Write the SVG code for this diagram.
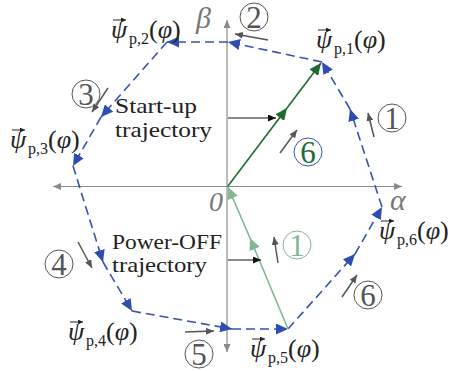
<svg xmlns="http://www.w3.org/2000/svg" width="451" height="371" viewBox="0 0 451 371">
<defs>
<style>
.ax{stroke:#8a8a8a;stroke-width:1.2;fill:none}
.traj{stroke:#3552b0;stroke-width:1.6;fill:none;stroke-dasharray:9 5}
.up{stroke:#1e6b30;stroke-width:1.6;fill:none}
.off{stroke:#7fb893;stroke-width:1.6;fill:none}
.ga{stroke:#555;stroke-width:1.5;fill:none}
.ba{stroke:#111;stroke-width:1;fill:none}
.lbl{font-family:"Liberation Serif","DejaVu Serif",serif;font-size:26px;fill:#222}
.it{font-style:italic}
.sub{font-size:16px}
.vec{stroke:#222;stroke-width:1;fill:none}
.txt{font-family:"Liberation Serif","DejaVu Serif",serif;font-size:22px;fill:#222}
.gr{font-family:"Liberation Serif","DejaVu Serif",serif;font-style:italic;fill:#777}
.cn{font-family:"Liberation Serif","DejaVu Serif",serif;font-size:31px;text-anchor:middle}
.cc{fill:none;stroke-width:1}
</style>
<marker id="mb" markerUnits="userSpaceOnUse" markerWidth="12" markerHeight="11" refX="12" refY="5.5" orient="auto"><path d="M0,0 L12,5.5 L0,11 z" fill="#2f4db0"/></marker>
<marker id="mg" markerUnits="userSpaceOnUse" markerWidth="12" markerHeight="11" refX="12" refY="5.5" orient="auto"><path d="M0,0 L12,5.5 L0,11 z" fill="#1e6b30"/></marker>
<marker id="ml" markerUnits="userSpaceOnUse" markerWidth="12" markerHeight="11" refX="12" refY="5.5" orient="auto"><path d="M0,0 L12,5.5 L0,11 z" fill="#7fb893"/></marker>
<marker id="ms" markerUnits="userSpaceOnUse" markerWidth="8" markerHeight="7" refX="8" refY="3.5" orient="auto"><path d="M0,0 L8,3.5 L0,7 z" fill="#555"/></marker>
<marker id="ma" markerUnits="userSpaceOnUse" markerWidth="8" markerHeight="7" refX="8" refY="3.5" orient="auto-start-reverse"><path d="M0,0 L8,3.5 L0,7 z" fill="#8a8a8a"/></marker>
<marker id="mk" markerUnits="userSpaceOnUse" markerWidth="8" markerHeight="7" refX="8" refY="3.5" orient="auto"><path d="M0,0 L8,3.5 L0,7 z" fill="#111"/></marker>
<marker id="mv" markerUnits="userSpaceOnUse" markerWidth="5" markerHeight="5" refX="5" refY="2.5" orient="auto"><path d="M0,0 L5,2.5 L0,5 z" fill="#222"/></marker>
</defs>

<g id="axes">
<line class="ax" x1="227" y1="352" x2="227" y2="20" marker-start="url(#ma)" marker-end="url(#ma)"/>
<line class="ax" x1="53" y1="186.5" x2="402" y2="186.5" marker-start="url(#ma)" marker-end="url(#ma)"/>
<text class="gr" x="196" y="28" font-size="30">β</text>
<text class="gr" x="390" y="210" font-size="30">α</text>
<text class="gr" x="209" y="211" font-size="28">0</text>
</g>

<g id="connectors">
<line class="traj" x1="322" y1="62" x2="228" y2="42" marker-end="url(#mb)"/>
<line class="traj" x1="228" y1="42" x2="167" y2="42" marker-end="url(#mb)"/>
<line class="traj" x1="167" y1="42" x2="101" y2="117" marker-end="url(#mb)"/>
<line class="traj" x1="101" y1="117" x2="73" y2="166" marker-end="url(#mb)"/>
<line class="traj" x1="73" y1="166" x2="103" y2="262" marker-end="url(#mb)"/>
<line class="traj" x1="103" y1="262" x2="132" y2="311" marker-end="url(#mb)"/>
<line class="traj" x1="132" y1="311" x2="232" y2="329" marker-end="url(#mb)"/>
<line class="traj" x1="232" y1="329" x2="288" y2="329" marker-end="url(#mb)"/>
<line class="traj" x1="288" y1="329" x2="355" y2="254" marker-end="url(#mb)"/>
<line class="traj" x1="355" y1="254" x2="382" y2="207" marker-end="url(#mb)"/>
<line class="traj" x1="382" y1="207" x2="350" y2="109" marker-end="url(#mb)"/>
<line class="traj" x1="350" y1="109" x2="322" y2="62" marker-end="url(#mb)"/>

<line class="up" x1="228" y1="186" x2="287" y2="108" marker-end="url(#mg)"/>
<line class="up" x1="287" y1="108" x2="321" y2="63" marker-end="url(#mg)"/>

<line class="off" x1="288" y1="329" x2="250" y2="238" marker-end="url(#ml)"/>
<line class="off" x1="250" y1="238" x2="228" y2="187" marker-end="url(#ml)"/>

<line class="ba" x1="228" y1="118" x2="276" y2="118" marker-end="url(#mk)"/>
<line class="ba" x1="228" y1="260" x2="261" y2="260" marker-end="url(#mk)"/>

<line class="ga" x1="268" y1="40" x2="235" y2="34" marker-end="url(#ms)"/>
<line class="ga" x1="374" y1="137" x2="368" y2="113" marker-end="url(#ms)"/>
<line class="ga" x1="280" y1="153" x2="297" y2="130" marker-end="url(#ms)"/>
<line class="ga" x1="108" y1="88" x2="92" y2="112" marker-end="url(#ms)"/>
<line class="ga" x1="78" y1="242" x2="92" y2="268" marker-end="url(#ms)"/>
<line class="ga" x1="185" y1="332" x2="214" y2="331" marker-end="url(#ms)"/>
<line class="ga" x1="342" y1="297" x2="357" y2="275" marker-end="url(#ms)"/>
<line class="ga" x1="278" y1="263" x2="274" y2="237" marker-end="url(#ms)"/>
</g>

<g id="label-p1">
<path class="vec" d="M318,30 h13" marker-end="url(#mv)"/>
<text class="lbl" x="316" y="48"><tspan class="it">ψ</tspan><tspan class="sub" x="334" dy="6">p,1</tspan><tspan x="354" dy="-6">(</tspan><tspan class="it">φ</tspan>)</text>
</g>
<g id="label-p2">
<path class="vec" d="M113,20 h13" marker-end="url(#mv)"/>
<text class="lbl" x="111" y="38"><tspan class="it">ψ</tspan><tspan class="sub" x="129" dy="6">p,2</tspan><tspan x="149" dy="-6">(</tspan><tspan class="it">φ</tspan>)</text>
</g>
<g id="label-p3">
<path class="vec" d="M12,130 h13" marker-end="url(#mv)"/>
<text class="lbl" x="10" y="148"><tspan class="it">ψ</tspan><tspan class="sub" x="28" dy="6">p,3</tspan><tspan x="48" dy="-6">(</tspan><tspan class="it">φ</tspan>)</text>
</g>
<g id="label-p4">
<path class="vec" d="M70,322 h13" marker-end="url(#mv)"/>
<text class="lbl" x="68" y="340"><tspan class="it">ψ</tspan><tspan class="sub" x="86" dy="6">p,4</tspan><tspan x="106" dy="-6">(</tspan><tspan class="it">φ</tspan>)</text>
</g>
<g id="label-p5">
<path class="vec" d="M252,339 h13" marker-end="url(#mv)"/>
<text class="lbl" x="250" y="357"><tspan class="it">ψ</tspan><tspan class="sub" x="268" dy="6">p,5</tspan><tspan x="288" dy="-6">(</tspan><tspan class="it">φ</tspan>)</text>
</g>
<g id="label-p6">
<path class="vec" d="M381,221 h13" marker-end="url(#mv)"/>
<text class="lbl" x="379" y="239"><tspan class="it">ψ</tspan><tspan class="sub" x="397" dy="6">p,6</tspan><tspan x="417" dy="-6">(</tspan><tspan class="it">φ</tspan>)</text>
</g>

<g id="startup-label">
<text class="txt" x="115" y="113" textLength="82" lengthAdjust="spacingAndGlyphs">Start-up</text>
<text class="txt" x="115" y="137" textLength="97" lengthAdjust="spacingAndGlyphs">trajectory</text>
</g>
<g id="poweroff-label">
<text class="txt" x="112" y="249" textLength="110" lengthAdjust="spacingAndGlyphs">Power-OFF</text>
<text class="txt" x="112" y="272" textLength="95" lengthAdjust="spacingAndGlyphs">trajectory</text>
</g>

<g id="c2"><circle class="cc" cx="254" cy="17" r="14" stroke="#555"/><text class="cn" x="254" y="27.5" fill="#555">2</text></g>
<g id="c1a"><circle class="cc" cx="392" cy="118" r="14" stroke="#555"/><text class="cn" x="392" y="128.5" fill="#555">1</text></g>
<g id="c6a"><circle class="cc" cx="308" cy="152" r="14" stroke="#3552b0"/><text class="cn" x="308" y="162.5" fill="#1e6b30">6</text></g>
<g id="c3"><circle class="cc" cx="86" cy="94" r="14" stroke="#555"/><text class="cn" x="86" y="104.5" fill="#555">3</text></g>
<g id="c4"><circle class="cc" cx="59" cy="264" r="14" stroke="#555"/><text class="cn" x="59" y="274.5" fill="#555">4</text></g>
<g id="c5"><circle class="cc" cx="199" cy="354" r="14" stroke="#555"/><text class="cn" x="199" y="364.5" fill="#555">5</text></g>
<g id="c6b"><circle class="cc" cx="368" cy="295" r="14" stroke="#555"/><text class="cn" x="368" y="305.5" fill="#555">6</text></g>
<g id="c1b"><circle class="cc" cx="297" cy="245" r="14" stroke="#7fb893"/><text class="cn" x="297" y="255.5" fill="#7fb893">1</text></g>
</svg>
